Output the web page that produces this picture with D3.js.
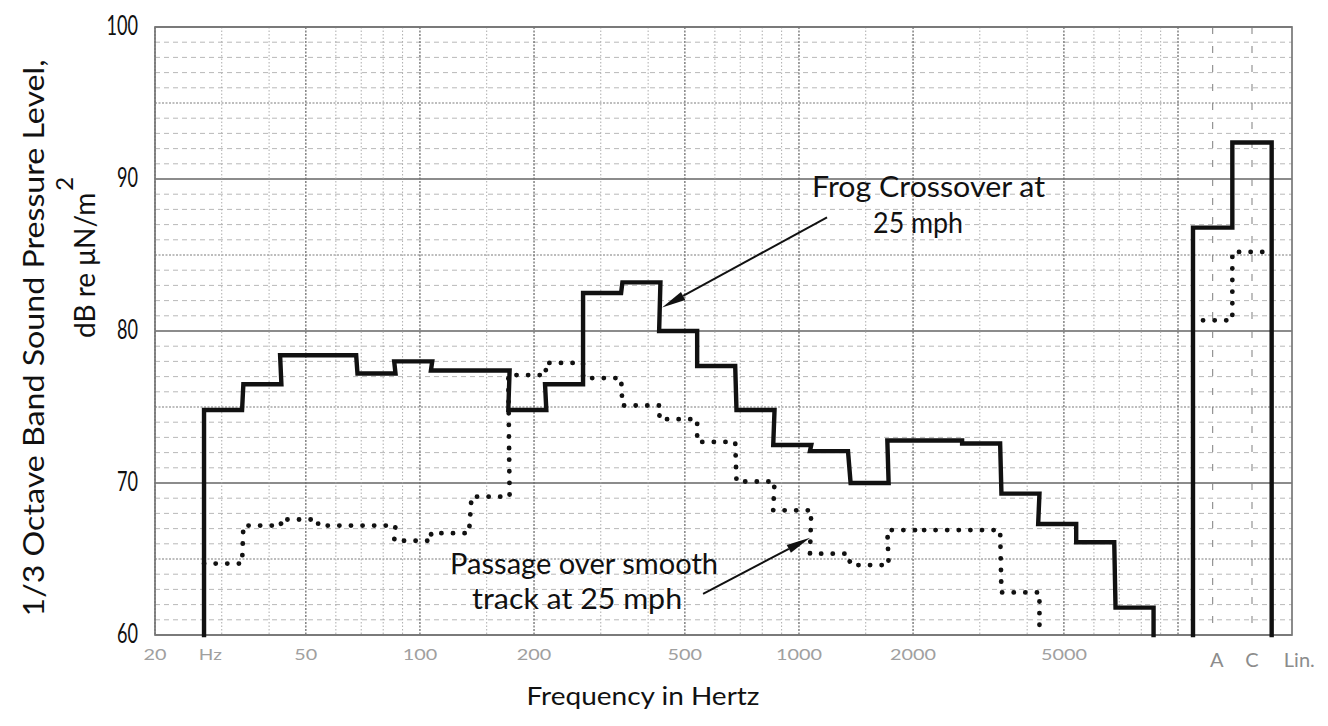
<!DOCTYPE html>
<html><head><meta charset="utf-8">
<script src="https://cdn.jsdelivr.net/npm/d3@7"></script>
<style>
body{margin:0;background:#fff}
text{font-family:Lato,"Noto Sans",sans-serif}
</style>
</head><body>
<svg id="chart" width="1328" height="726"></svg>
<script>
// ---------- data ----------
const bandCenters = [31.5,40,50,63,80,100,125,160,200,250,315,400,500,630,800,1000,1250,1600,2000,2500,3150,4000,5000,6300,8000];
const frogCrossover = [74.8,76.5,78.4,78.4,77.2,78.0,77.4,77.4,74.8,76.5,82.5,83.2,80.0,77.7,74.8,72.5,72.1,70.0,72.8,72.8,72.6,69.3,67.3,66.1,61.8];
const smoothTrack = [64.7,67.2,67.6,67.2,67.2,66.2,66.7,69.1,77.1,77.9,76.9,75.1,74.2,72.7,70.1,68.2,65.35,64.6,66.9,66.9,66.9,62.8,null,null,null];
const weightings = ["A","C","Lin."];
const frogWeighted = [86.8,92.4];
const smoothWeighted = [80.7,85.2];
const gridFreqs = [20,30,40,50,60,70,80,90,100,150,200,300,400,500,600,700,800,900,1000,1500,2000,3000,4000,5000,6000,7000,8000,9000,10000];
const strongFreqs = [20,50,100,200,500,1000,2000,5000,10000];
const xTickValues = [20,28,50,100,200,500,1000,2000,5000];
const xTickLabels = ["20","Hz","50","100","200","500","1000","2000","5000"];
const yTickValues = [60,70,80,90,100];
const yTickLabels = ["60","70","80","90","100"];

// ---------- layout ----------
const L=155, R=1292, T=27, B=635, XEND=1178;
const svg = d3.select("#chart");
const x = d3.scaleLog().domain([20,10000]).range([L,XEND]);
const y = d3.scaleLinear().domain([60,100]).range([B,T]);
const wx = d3.scaleBand().domain(weightings).range([1193,1311]);
const reg = 0.96; // registration of printed trace on the grid
const lo = f => x(f*Math.pow(2,-1/6)*reg);
const hi = f => x(f*Math.pow(2,1/6)*reg);

// ---------- grid ----------
const g = svg.append("g");
d3.range(60,101).forEach(v=>{
  const major = v%10===0, mid = v%5===0;
  g.append("line").attr("x1",L).attr("x2",R).attr("y1",y(v)).attr("y2",y(v))
    .attr("stroke", major?"#666":mid?"#7c7c7c":"#b0b0b0")
    .attr("stroke-width", major?1.7:mid?1.2:0.9)
    .attr("stroke-dasharray", major?null:mid?"2 1.5":"5 4");
});
gridFreqs.forEach(f=>{
  const s = strongFreqs.includes(f);
  g.append("line").attr("x1",x(f)).attr("x2",x(f)).attr("y1",T).attr("y2",B)
    .attr("stroke", s?"#6f6f6f":"#a4a4a4")
    .attr("stroke-width", s?1.3:0.9)
    .attr("stroke-dasharray", s?"2 1.5":"1.5 2");
});
weightings.slice(0,2).forEach(w=>{
  const cx = wx(w)+wx.bandwidth()/2;
  g.append("line").attr("x1",cx).attr("x2",cx).attr("y1",T).attr("y2",B)
    .attr("stroke","#8a8a8a").attr("stroke-width",1.1).attr("stroke-dasharray","7 12");
});
g.append("rect").attr("x",L).attr("y",T).attr("width",R-L).attr("height",B-T)
  .attr("fill","none").attr("stroke","#777").attr("stroke-width",1.7);

// ---------- series ----------
function stepPath(vals, fromBottom){
  const p = d3.path();
  let started=false, lastX=null;
  vals.forEach((v,i)=>{
    if(v==null) return;
    const x0=lo(bandCenters[i]), x1=hi(bandCenters[i]);
    if(!started){
      if(fromBottom){p.moveTo(x0,y(60)); p.lineTo(x0,y(v));} else p.moveTo(x0,y(v));
      started=true;
    } else p.lineTo(x0,y(v));
    p.lineTo(x1,y(v)); lastX=x1;
  });
  p.lineTo(lastX,y(60));
  return p.toString();
}
function weightedPath(vals, closed){
  const p = d3.path();
  vals.forEach((v,i)=>{
    const x0=wx(weightings[i]), x1=x0+wx.bandwidth();
    if(i===0){ if(closed){p.moveTo(x0,y(60)); p.lineTo(x0,y(v));} else p.moveTo(x0+10,y(v)); }
    else p.lineTo(x0,y(v));
    p.lineTo(closed||i<vals.length-1?x1:x1-8,y(v));
    if(i===vals.length-1 && closed) p.lineTo(x1,y(60));
  });
  return p.toString();
}
const solid = {fill:"none",stroke:"#111","stroke-width":4.4,"stroke-linejoin":"miter","stroke-linecap":"square"};
const dotted = {fill:"none",stroke:"#111","stroke-width":4.8,"stroke-linecap":"round","stroke-dasharray":"0.1 11.5"};
function styl(sel,o){Object.entries(o).forEach(([k,v])=>sel.attr(k,v));return sel;}
styl(svg.append("path").attr("d",stepPath(smoothTrack,false)),dotted);
styl(svg.append("path").attr("d",weightedPath(smoothWeighted,false)),dotted);
styl(svg.append("path").attr("d",stepPath(frogCrossover,true)),solid);
styl(svg.append("path").attr("d",weightedPath(frogWeighted,true)),solid);

// ---------- axes labels ----------
yTickValues.forEach((v,i)=>{
  const t=yTickLabels[i];
  svg.append("text").attr("x",138).attr("y",y(v)+8).attr("text-anchor","end")
    .attr("font-size",27).attr("fill","#111")
    .attr("textLength",t.length*10.5).attr("lengthAdjust","spacingAndGlyphs").text(t);
});
xTickValues.forEach((v,i)=>{
  const t=xTickLabels[i];
  svg.append("text").attr("x",x(v)).attr("y",660).attr("text-anchor","middle")
    .attr("font-size",15).attr("fill","#a0a0a0")
    .attr("textLength",t.length*11.5).attr("lengthAdjust","spacingAndGlyphs").text(t);
});
weightings.forEach((w,i)=>{
  const cx = wx(w)+wx.bandwidth()/2 + (i===2?8:i===0?4:0);
  svg.append("text").attr("x",cx).attr("y",667).attr("text-anchor","middle")
    .attr("font-size",20).attr("fill","#8c8c8c").text(w);
});
svg.append("text").attr("x",643).attr("y",705).attr("text-anchor","middle")
  .attr("font-size",25).attr("fill","#111").attr("textLength",233).attr("lengthAdjust","spacingAndGlyphs")
  .text("Frequency in Hertz");
svg.append("text").attr("transform","translate(44,338) rotate(-90)").attr("text-anchor","middle")
  .attr("font-size",28).attr("fill","#111").attr("textLength",557).attr("lengthAdjust","spacingAndGlyphs")
  .text("1/3 Octave Band Sound Pressure Level,");
const t2 = svg.append("text").attr("transform","translate(95,338) rotate(-90)").attr("text-anchor","start")
  .attr("font-size",28).attr("fill","#111");
t2.append("tspan").text("dB re \u03bcN/m");
t2.append("tspan").attr("dy",-22).attr("dx",2).attr("font-size",24).text("2");

// ---------- annotations ----------
const notes = [
  {text:"Frog Crossover at", f:2198, v:88.8, len:233},
  {text:"25 mph", f:2062, v:86.43, len:90},
  {text:"Passage over smooth", f:271, v:64.02, len:268},
  {text:"track at 25 mph", f:259.8, v:61.71, len:210}
];
notes.forEach(n=>{
  svg.append("text").attr("x",x(n.f)).attr("y",y(n.v)).attr("text-anchor","middle")
    .attr("font-size",29).attr("fill","#111").attr("textLength",n.len).attr("lengthAdjust","spacingAndGlyphs").text(n.text);
});
const arrows = [
  {f0:1186, v0:87.48, f1:435.3, v1:81.55},
  {f0:558.5, v0:62.7, f1:1069.7, v1:66.4}
];
arrows.forEach(a=>{
  const x0=x(a.f0), y0=y(a.v0), x1=x(a.f1), y1=y(a.v1);
  const dx=x1-x0, dy=y1-y0, len=Math.hypot(dx,dy), ux=dx/len, uy=dy/len;
  const hl=24, hw=4.5;
  const bx=x1-ux*hl, by=y1-uy*hl;
  svg.append("line").attr("x1",x0).attr("y1",y0).attr("x2",bx).attr("y2",by)
    .attr("stroke","#111").attr("stroke-width",2);
  svg.append("path").attr("d",`M${x1},${y1}L${bx-uy*hw},${by+ux*hw}L${bx+uy*hw},${by-ux*hw}Z`).attr("fill","#111");
});
</script>
</body></html>
